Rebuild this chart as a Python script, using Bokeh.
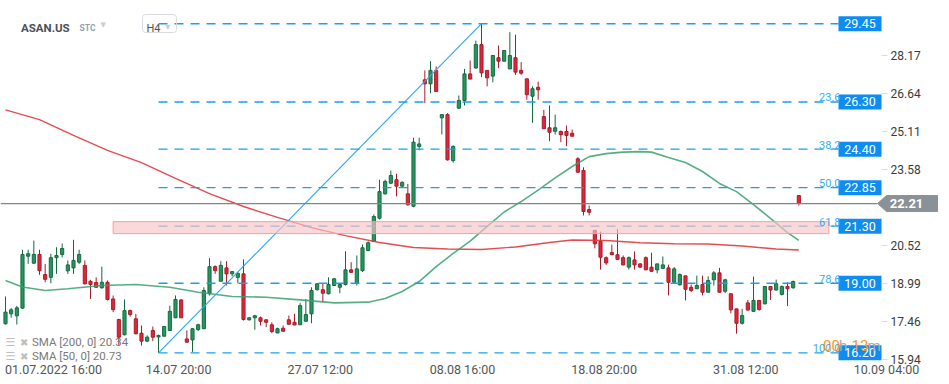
from bokeh.plotting import figure
from bokeh.models import (Range1d, FixedTicker, Label, PolyAnnotation,
                          BoxAnnotation, ColumnDataSource)
from bokeh.core.properties import value
from bokeh.embed import file_html
from bokeh.resources import INLINE

# ---------------- data ----------------
opens = [17.37, 17.77, 17.69, 18.00, 20.09, 19.81, 20.16, 19.35, 19.24, 20.03,
         20.16, 19.50, 19.62, 19.85, 19.72, 19.08, 19.03, 18.82, 19.04, 18.37,
         17.54, 16.93, 17.90, 17.57, 16.99, 16.67, 17.10, 16.84, 16.87, 17.10,
         17.61, 18.33, 16.76, 16.72, 17.14, 17.17, 18.58, 19.67, 19.08, 19.62,
         19.38, 19.24, 19.38, 17.53, 17.61, 17.61, 17.53, 17.33, 17.00, 17.19,
         17.53, 17.43, 17.33, 17.47, 17.77, 18.74, 18.74, 18.58, 18.91, 18.84,
         18.95, 19.54, 19.00, 19.51, 20.32, 20.69, 21.62, 22.60, 23.03, 23.17,
         22.91, 22.60, 22.10, 24.51, 27.19, 27.03, 27.57, 25.66, 25.79, 23.94,
         26.05, 26.36, 27.43, 27.67, 28.61, 27.57, 27.34, 28.08, 27.94, 27.63,
         28.08, 27.57, 27.23, 26.53, 26.89, 25.71, 25.26, 25.12, 25.11, 25.11,
         25.04, 24.01, 23.54, 21.97, 21.13, 20.69, 20.03, 20.24, 20.15, 20.03,
         19.65, 19.94, 19.78, 20.03, 19.65, 19.54, 19.60, 19.62, 19.04, 18.94,
         19.30, 18.84, 18.78, 18.95, 18.64, 19.14, 19.42, 18.68, 18.58, 17.97,
         17.39, 18.21, 17.87, 18.31, 18.17, 18.87, 18.73, 18.55, 18.87, 18.82,
         22.53]
highs = [18.47, 18.01, 18.09, 20.35, 20.35, 20.72, 20.35, 19.78, 20.19, 20.45,
         20.60, 19.92, 20.75, 20.35, 19.92, 19.14, 19.24, 19.67, 19.11, 18.51,
         17.57, 18.35, 17.94, 17.77, 17.30, 16.90, 17.26, 16.93, 17.26, 18.10,
         18.51, 18.35, 17.10, 17.19, 17.37, 18.84, 20.01, 19.72, 19.89, 19.89,
         19.49, 19.45, 19.96, 17.63, 17.73, 17.66, 17.54, 17.43, 17.21, 17.30,
         17.70, 17.77, 18.20, 18.37, 18.84, 19.00, 19.00, 19.24, 19.22, 19.00,
         20.29, 19.85, 20.12, 20.56, 20.69, 21.77, 23.17, 23.17, 23.54, 23.41,
         23.11, 23.00, 24.86, 24.86, 27.57, 27.94, 27.73, 25.80, 25.85, 24.55,
         26.56, 27.63, 27.97, 28.77, 29.45, 27.57, 28.17, 28.57, 28.37, 29.11,
         29.01, 27.90, 27.23, 26.93, 27.12, 25.98, 26.16, 25.79, 25.15, 25.35,
         25.19, 24.08, 23.67, 22.13, 21.13, 21.08, 20.08, 20.56, 21.19, 20.12,
         20.08, 20.28, 19.81, 20.08, 20.23, 19.78, 20.08, 19.75, 19.65, 19.40,
         19.30, 18.95, 19.31, 19.31, 19.28, 19.49, 19.62, 19.18, 18.58, 17.97,
         17.97, 18.33, 19.27, 18.31, 18.87, 18.87, 19.15, 18.91, 19.04, 19.11,
         22.53]
lows = [17.34, 17.61, 17.34, 17.97, 19.78, 19.78, 19.34, 19.04, 19.00, 19.38,
        20.04, 19.38, 19.38, 19.78, 18.95, 18.37, 18.82, 18.78, 18.31, 17.84,
        16.49, 16.90, 17.66, 16.94, 16.49, 16.63, 16.67, 16.20, 16.86, 17.10,
        17.61, 17.61, 16.61, 16.24, 17.07, 17.17, 18.51, 19.38, 19.08, 18.91,
        19.28, 19.00, 17.50, 17.50, 17.13, 17.30, 17.23, 16.99, 17.00, 17.06,
        17.34, 17.32, 17.33, 17.47, 17.39, 18.71, 18.24, 18.55, 18.91, 18.60,
        18.91, 19.44, 18.91, 19.45, 20.29, 20.69, 21.57, 22.57, 23.00, 22.50,
        22.87, 22.13, 22.06, 24.35, 26.25, 26.65, 26.72, 24.99, 23.94, 23.85,
        26.02, 26.16, 27.22, 27.63, 27.30, 26.93, 27.09, 27.66, 27.94, 27.63,
        27.39, 27.39, 26.39, 25.46, 26.39, 25.22, 24.72, 24.99, 24.68, 24.52,
        24.92, 23.47, 21.73, 21.73, 20.41, 19.55, 19.74, 20.15, 19.96, 19.72,
        19.55, 19.55, 19.62, 19.54, 19.48, 19.40, 19.60, 18.51, 19.04, 18.91,
        18.31, 18.64, 18.78, 18.51, 18.64, 18.91, 18.64, 18.60, 17.79, 16.97,
        17.34, 17.92, 17.87, 17.90, 18.17, 18.33, 18.71, 18.51, 18.08, 18.78,
        22.13]
closes = [17.84, 17.93, 18.01, 20.16, 20.19, 20.16, 19.51, 19.16, 20.03, 20.12,
          20.40, 19.74, 19.92, 20.16, 18.98, 18.95, 18.84, 19.04, 18.35, 17.94,
          16.83, 17.90, 17.74, 16.97, 16.67, 16.83, 16.83, 16.90, 17.26, 17.87,
          18.35, 17.61, 16.63, 17.17, 17.33, 18.71, 19.67, 19.51, 19.72, 19.38,
          19.47, 19.40, 17.54, 17.61, 17.69, 17.47, 17.43, 17.06, 17.17, 17.07,
          17.35, 17.32, 18.10, 17.74, 18.71, 18.98, 18.60, 18.95, 19.18, 18.95,
          19.54, 19.44, 19.58, 20.43, 20.63, 21.69, 22.69, 23.10, 23.34, 22.91,
          23.06, 22.16, 24.68, 24.61, 27.03, 27.57, 26.72, 25.79, 23.97, 24.51,
          26.36, 27.43, 27.22, 28.61, 27.47, 27.27, 28.17, 27.94, 28.37, 28.17,
          27.50, 27.46, 26.59, 26.83, 26.79, 25.22, 25.08, 25.26, 24.98, 24.95,
          24.92, 23.47, 21.89, 21.86, 20.59, 20.05, 19.82, 20.15, 19.96, 19.74,
          20.03, 19.74, 19.65, 19.54, 19.48, 19.78, 19.74, 19.04, 19.58, 19.35,
          18.76, 18.71, 18.91, 18.64, 19.11, 19.42, 18.64, 19.14, 17.93, 17.39,
          17.70, 17.92, 18.31, 17.94, 18.87, 18.73, 18.98, 18.87, 18.78, 19.07,
          22.21]

sma200_idx = [0, 6, 12, 18, 24, 30, 36, 42, 48, 54, 60, 66, 72, 78, 84, 90, 96,
              100, 106, 112, 118, 124, 130, 136, 140]
sma200_val = [25.98, 25.59, 24.95, 24.35, 23.86, 23.22, 22.61, 22.09, 21.65, 21.24,
              20.92, 20.64, 20.44, 20.38, 20.36, 20.46, 20.64, 20.74, 20.72, 20.63,
              20.59, 20.58, 20.50, 20.38, 20.34]
sma50_idx = [0, 3, 7, 11, 17, 23, 29, 34, 40, 46, 52, 58, 64, 67, 70, 73, 76, 79,
             82, 85, 88, 91, 94, 97, 100, 103, 106, 109, 112, 114, 117, 120, 123,
             126, 129, 132, 135, 138, 140]
sma50_val = [19.11, 18.85, 18.71, 18.78, 18.91, 18.95, 18.84, 18.64, 18.47, 18.44,
             18.33, 18.21, 18.24, 18.39, 18.67, 19.07, 19.67, 20.20, 20.70, 21.29,
             21.87, 22.29, 22.75, 23.24, 23.70, 24.10, 24.22, 24.28, 24.30, 24.28,
             24.06, 23.86, 23.50, 23.02, 22.69, 22.17, 21.61, 21.04, 20.73]

fib_levels = [29.45, 26.30, 24.40, 22.85, 21.30, 19.00, 16.20]
fib_pcts = ["0.0", "23.6", "38.2", "50.0", "61.8", "78.6", "100.0"]
fib_low_idx, fib_high_idx = 27, 84          # swing low / swing high candles
zone_start_idx, zone_end_idx = 19, 145.3
zone_low, zone_high = 21.00, 21.48
last_price = 22.21

x_tick_idx = [0, 25, 50, 75, 100, 125, 150]   # a label every 25 candles
x_tick_labels = ["01.07.2022  16:00", "14.07  20:00", "27.07  12:00", "08.08  16:00",
                 "18.08  20:00", "31.08  12:00", "10.09  04:00"]
x_label_px = [97, 64, 64, 65, 65, 65, 63]      # label widths (labels start at the tick)
y_ticks = [15.94, 17.46, 18.99, 20.52, 23.58, 25.11, 26.64, 28.17]

# ---------------- layout ----------------
W, H = 941, 376
AXIS_Y_PX = 359                 # where the time scale sits (px from top)
PX_PER_CANDLE = 17 / 3
PX_PER_UNIT = 24.84
x_start = -5 / PX_PER_CANDLE
x_end = x_start + W / PX_PER_CANDLE
axis_x = x_start + 881 / PX_PER_CANDLE      # where the price scale sits
y_hi = 30.384
y_lo = y_hi - H / PX_PER_UNIT
axis_y = y_hi - AXIS_Y_PX / PX_PER_UNIT
px_x = PX_PER_CANDLE
px_y = PX_PER_UNIT

FONT = "Roboto"

p = figure(width=W, height=H, x_range=Range1d(x_start, x_end),
           y_range=Range1d(y_lo, y_hi), output_backend="svg",
           toolbar_location=None, y_axis_location="right",
           min_border_left=0, min_border_right=0,
           min_border_top=0, min_border_bottom=0)
p.outline_line_color = None
p.xgrid.visible = False
p.ygrid.visible = False
p.background_fill_color = "white"
p.border_fill_color = "white"

ya = p.yaxis[0]
ya.fixed_location = axis_x
ya.ticker = FixedTicker(ticks=y_ticks)
ya.major_label_overrides = {t: f"{t:.2f}" for t in y_ticks}
ya.axis_line_color = None
ya.major_tick_out = 6
ya.major_tick_in = 0
ya.major_tick_line_color = "#dcdcdc"
ya.minor_tick_line_color = None
ya.major_label_standoff = 3
ya.major_label_text_font = FONT
ya.major_label_text_font_size = "12px"
ya.major_label_text_color = "#3a3a3a"

# labels are centred on their tick by Bokeh: anchor them so they start at the tick
x_label_pos = [t + w / 2 / px_x + 1 / px_x for t, w in zip(x_tick_idx, x_label_px)]
xa = p.xaxis[0]
xa.fixed_location = axis_y
xa.ticker = FixedTicker(ticks=x_label_pos)
xa.major_label_overrides = dict(zip(x_label_pos, x_tick_labels))
xa.axis_line_color = None
xa.major_tick_in = 0
xa.major_tick_out = 0
xa.major_tick_line_color = None
xa.minor_tick_line_color = None
xa.major_label_standoff = 2
xa.major_label_text_font = FONT
xa.major_label_text_font_size = "12.5px"
xa.major_label_text_color = "#555555"

# ---------------- candles ----------------
n = len(opens)
idx = list(range(n))
up = [c >= o for o, c in zip(opens, closes)]
src = ColumnDataSource(dict(
    x=idx, o=opens, h=highs, l=lows, c=closes,
    top=[max(o, c) for o, c in zip(opens, closes)],
    bot=[min(o, c) for o, c in zip(opens, closes)],
    fill=["#23995f" if u else "#e1263a" for u in up],
    line=["#16683f" if u else "#a51c2a" for u in up],
))
p.segment(x0="x", y0="h", x1="x", y1="l", line_color="line", line_width=1, source=src)
p.vbar(x="x", width=0.55, top="top", bottom="bot", fill_color="fill",
       line_color="line", line_width=1, source=src)

# ---------------- moving averages ----------------
p.line(sma200_idx, sma200_val, line_color="#e0393d", line_width=1.4, line_alpha=0.9)
p.line(sma50_idx, sma50_val, line_color="#38a06f", line_width=1.6, line_alpha=0.85)

# ---------------- fibonacci ----------------
p.line([fib_low_idx, fib_high_idx], [fib_levels[-1], fib_levels[0]],
       line_color="#31a9f2", line_width=1.2)

box_w_px, box_h_px = 43, 15
box_left = axis_x - box_w_px / px_x
p.segment(x0=[fib_low_idx] * len(fib_levels), y0=fib_levels,
          x1=[box_left] * len(fib_levels), y1=fib_levels,
          line_color="#1a9ff0", line_width=1.4, line_dash="9 7")

# support zone (drawn over the lines)
p.quad(left=[zone_start_idx], right=[zone_end_idx], bottom=[zone_low], top=[zone_high],
       fill_color="#f9c3c5", fill_alpha=0.65, line_color="#f0a0a4", line_width=1)

# current price line (up to the price tag)
tag_tip = x_start + 877 / px_x
p.segment(x0=[x_start], y0=[last_price], x1=[tag_tip], y1=[last_price],
          line_color="#7d868c", line_width=1.2)

# price boxes
hh = box_h_px / px_y / 2
p.quad(left=[box_left] * len(fib_levels), right=[axis_x] * len(fib_levels),
       bottom=[v - hh for v in fib_levels], top=[v + hh for v in fib_levels],
       fill_color="#0f8cf0", line_color=None)
p.text(x=[(box_left + axis_x) / 2] * len(fib_levels), y=fib_levels,
       text=[f"{v:.2f}" for v in fib_levels], text_font=value(FONT),
       text_font_size=value("12.5px"), text_color="white",
       text_align="center", text_baseline="middle")

# fib percentage labels (the 0.0 one is hidden under the header in the reference)
p.text(x=[box_left + 2 / px_x] * (len(fib_levels) - 1),
       y=[v + 4.5 / px_y for v in fib_levels[1:]],
       text=fib_pcts[1:], text_font=value(FONT), text_font_size=value("11px"),
       text_color="#36aef2", text_align="right", text_baseline="alphabetic")


# ---------------- annotations in screen space ----------------
def sx(px):
    return px


def sy(py):
    return H - py


# last price tag
th = 8 / px_y
p.add_layout(PolyAnnotation(
    xs=[sx(877), sx(886), sx(937), sx(937), sx(886)],
    ys=[last_price, last_price + th, last_price + th, last_price - th, last_price - th],
    xs_units="screen", ys_units="data",
    fill_color="#8a9297", fill_alpha=1, line_color="#8a9297", line_alpha=1))
p.add_layout(Label(x=sx(906), y=last_price, x_units="screen", y_units="data",
                   text=f"{last_price:.2f}", text_font=FONT, text_font_size="13px",
                   text_font_style="bold", text_color="white",
                   text_align="center", text_baseline="middle"))

# header
p.add_layout(Label(x=sx(20.5), y=sy(27), x_units="screen", y_units="screen",
                   text="ASAN.US", text_font=FONT, text_font_size="11.5px",
                   text_font_style="bold", text_color="#4a5057",
                   text_baseline="alphabetic"))
p.add_layout(Label(x=sx(79), y=sy(27), x_units="screen", y_units="screen",
                   text="STC", text_font=FONT, text_font_size="8.5px",
                   text_font_style="bold", text_color="#8fa2b2",
                   text_baseline="alphabetic"))
p.add_layout(Label(x=sx(100), y=sy(24.5), x_units="screen", y_units="screen",
                   text="▼", text_font="DejaVu Sans", text_font_size="7px",
                   text_color="#c9ced2", text_baseline="alphabetic"))
p.add_layout(BoxAnnotation(left=sx(142), right=sx(176), top=sy(14), bottom=sy(32),
                           left_units="screen", right_units="screen",
                           top_units="screen", bottom_units="screen",
                           fill_alpha=0, line_color="#d8dce0", line_alpha=1,
                           line_width=1, border_radius=3))
p.add_layout(Label(x=sx(146), y=sy(28), x_units="screen", y_units="screen",
                   text="H4", text_font=FONT, text_font_size="11px",
                   text_color="#4d5358", text_baseline="alphabetic"))
p.add_layout(Label(x=sx(165), y=sy(26), x_units="screen", y_units="screen",
                   text="▼", text_font="DejaVu Sans", text_font_size="6px",
                   text_color="#c5cacf", text_baseline="alphabetic"))

# indicator legend
for txt, base in [("SMA [200, 0] 20.34", 341.5), ("SMA [50, 0] 20.73", 355.5)]:
    p.add_layout(Label(x=sx(5), y=sy(base), x_units="screen", y_units="screen",
                       text="☰", text_font="DejaVu Sans", text_font_size="11px",
                       text_color="#bdbdbd", text_baseline="alphabetic"))
    p.add_layout(Label(x=sx(19.5), y=sy(base), x_units="screen", y_units="screen",
                       text="✖", text_font="DejaVu Sans", text_font_size="10px",
                       text_color="#bdbdbd", text_baseline="alphabetic"))
    p.add_layout(Label(x=sx(31.5), y=sy(base), x_units="screen", y_units="screen",
                       text=txt, text_font=FONT, text_font_size="11.5px",
                       text_color="#7a7a7a", text_baseline="alphabetic"))

# countdown
for txt, xx, col in [("00", 822.5, "#f7941d"), ("h", 838.5, "#ababab"),
                     ("13", 851, "#f7941d"), ("m", 867, "#ababab")]:
    p.add_layout(Label(x=sx(xx), y=sy(345), x_units="screen", y_units="screen",
                       text=txt, text_font=FONT, text_font_size="15px",
                       text_color=col, text_baseline="alphabetic"))

open("out.html", "w").write(file_html(p, INLINE))
